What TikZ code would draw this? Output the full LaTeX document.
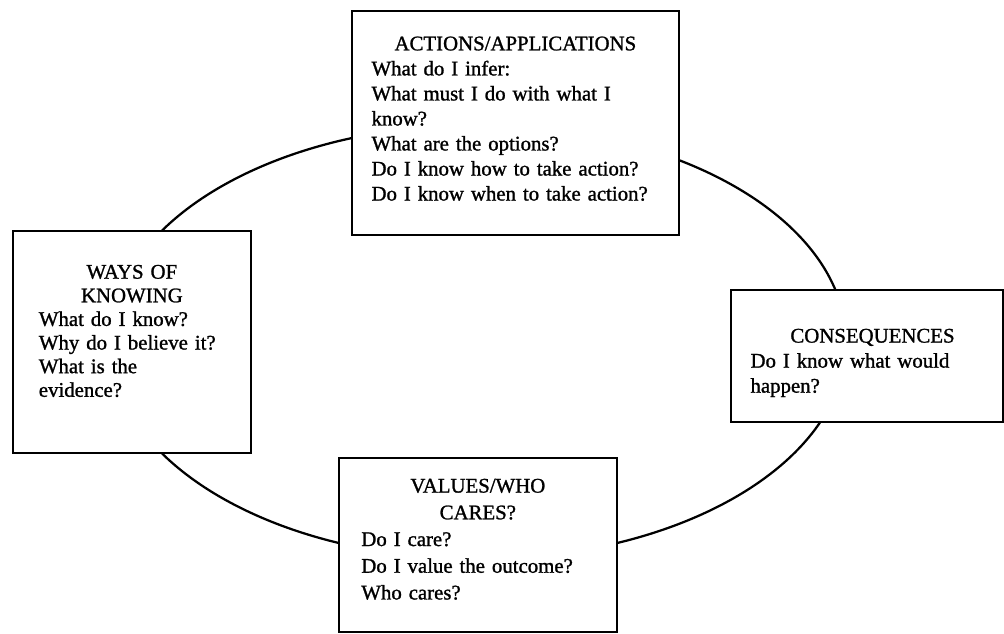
\documentclass[tikz,border=0pt]{standalone}
\usepackage{fontspec}
\setmainfont{Liberation Serif}[FakeBold=1.2]
\hyphenpenalty=10000
\exhyphenpenalty=10000

\begin{document}
\begin{tikzpicture}[
  x=0.025cm, y=-0.025cm, % one unit is one pixel of the scan, y runs down
  ring/.style={line width=1.6pt},
  panel/.style={draw, fill=white, line width=1.2pt, anchor=north west, align=left,
    inner xsep=14pt, text height=10.5pt, font=\fontsize{14.8}{17.8}\selectfont},
  ]
  \path[use as bounding box, fill=white] (0,0) rectangle (1004,633);

  % the cycle behind the four boxes
  \coordinate (hub) at (478,342);
  \draw[ring] (hub) ellipse [x radius=9.2cm, y radius=5.425cm];

  \node[panel, inner ysep=17.6pt, text width=204.6pt, text depth=113.6pt] (act) at (351,10)
    {\makebox[\linewidth]{ACTIONS/APPLICATIONS}\\
     What do I infer:\\
     What must I do with what I\\
     know?\\
     What are the options?\\
     Do I know how to take action?\\
     Do I know when to take action?};

  \node[panel, inner xsep=18.5pt, inner ysep=23.5pt, text width=132.3pt, text depth=100.4pt,
    font=\fontsize{14.8}{16.8}\selectfont] (know) at (12,230)
    {\makebox[\linewidth]{WAYS OF}\\
     \makebox[\linewidth]{KNOWING}\\
     What do I know?\\
     Why do I believe it?\\
     What is the\\
     evidence?};

  \node[panel, inner ysep=27pt, text width=165.5pt, text depth=29.4pt] (cons) at (730,289)
    {\makebox[\linewidth]{\hspace{8pt}CONSEQUENCES}\\
     Do I know what would\\
     happen?};

  \node[panel, inner xsep=16pt, inner ysep=14.2pt, text width=165.7pt, text depth=84.9pt,
    font=\fontsize{14.8}{19}\selectfont] (val) at (338,457)
    {\makebox[\linewidth]{VALUES/WHO}\\
     \makebox[\linewidth]{CARES?}\\
     Do I care?\\
     Do I value the outcome?\\
     Who cares?};
\end{tikzpicture}
\end{document}
